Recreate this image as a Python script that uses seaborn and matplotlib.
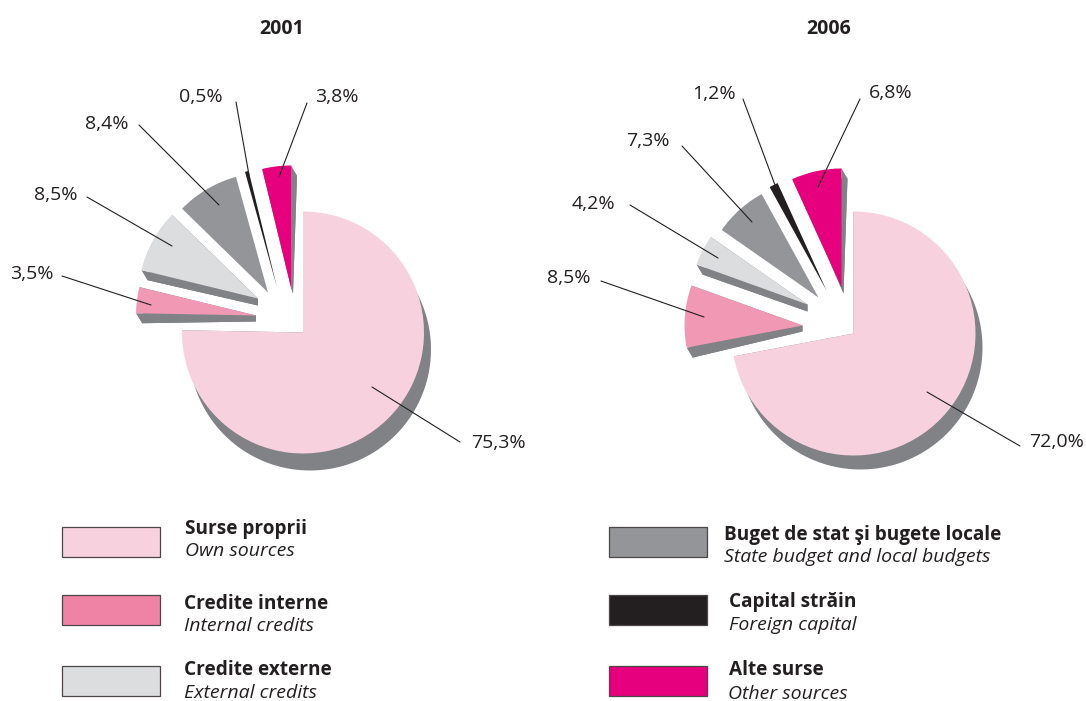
import matplotlib
matplotlib.use("Agg")
import matplotlib.pyplot as plt
from matplotlib.patches import Rectangle
import numpy as np
import seaborn as sns

sns.set_theme(style="white")
plt.rcParams['font.family'] = ['Open Sans', 'DejaVu Sans']

# ---- data ----
years = ["2001", "2006"]
values_2001 = [75.3, 3.5, 8.5, 8.4, 0.5, 3.8]
values_2006 = [72.0, 8.5, 4.2, 7.3, 1.2, 6.8]
labels_2001 = ["75,3%", "3,5%", "8,5%", "8,4%", "0,5%", "3,8%"]
labels_2006 = ["72,0%", "8,5%", "4,2%", "7,3%", "1,2%", "6,8%"]
names_ro = ["Surse proprii", "Credite interne", "Credite externe",
            "Buget de stat şi bugete locale", "Capital străin", "Alte surse"]
names_en = ["Own sources", "Internal credits", "External credits",
            "State budget and local budgets", "Foreign capital", "Other sources"]

# ---- styles and layout (pixels of the 1086x701 picture, y downward) ----
slice_colors = ["#f7d2de", "#f198b5", "#dcddde", "#939598", "#231f20", "#e6007e"]
legend_colors = ["#f7d2de", "#ef83a5", "#dcddde", "#939598", "#231f20", "#e6007e"]
shadow_color = "#808285"
text_color = "#231f20"
has_shadow = [True, True, True, False, False, True]
apex_depth = [None, (0, 6), (0, 7), None, None, (2, 6)]

layout = {
    "2001": dict(
        center=(303, 332.5), radii=[121, 120, 120, 120, 120, 122], own_shadow=(7, 17),
        shift=[(0, 0), (-47, -17), (-45, -34), (-35, -40), (-26, -45), (-12, -45)],
        title=(282, 29),
        label_xy=[(498, 443), (32, 274), (56, 195), (107, 124), (201, 97), (337, 97)],
        leader=[((460, 442), (372, 387)), ((62, 276), (151, 305)), ((87, 197), (172, 246)),
                ((139, 125), (219, 205)), ((236, 102), (249, 175)), ((307, 103), (279, 177))],
    ),
    "2006": dict(
        center=(853.5, 333.5), radii=[122, 118, 118, 118, 118, 119], own_shadow=(7, 14),
        shift=[(0, 0), (-51, -8), (-46, -29), (-35, -36), (-27, -43), (-12, -46)],
        title=(829, 29),
        label_xy=[(1057, 442), (569, 278), (593, 204), (648, 141), (714, 94), (891, 93)],
        leader=[((1020, 446), (927, 392)), ((601, 281), (704, 317)), ((630, 205), (718, 258)),
                ((682, 146), (752, 222)), ((743, 99), (775, 185)), ((860, 99), (818, 187))],
    ),
}

legend_boxes = [(62, 527), (62, 595), (62, 666), (609, 527), (609, 595), (609, 666)]
legend_text = [((185, 529), (185, 551)), ((184, 604), (184, 626)), ((184, 670), (184, 693)),
               ((724, 535), (724, 557)), ((729, 602), (729, 625)), ((729, 670), (728, 694))]

W, H = 1086, 701
fig = plt.figure(figsize=(W / 100, H / 100), dpi=100, facecolor="white")
ax = fig.add_axes([0, 0, 1, 1])


def Y(y):
    return H - y


def draw_shadow(wedge, i, lay):
    """Grey extruded side of a slice: its rim moves fully, its apex only a little."""
    (x0, y0), r = wedge.center, wedge.r
    s = np.array(lay["own_shadow"] if i == 0 else (6, 10), dtype=float) * (1, -1)
    a = np.array(apex_depth[i] if apex_depth[i] else s, dtype=float) * ((1, -1) if apex_depth[i] else (1, 1))
    th = np.radians(np.linspace(wedge.theta1, wedge.theta2, 120))
    rim = np.column_stack([x0 + r * np.cos(th), y0 + r * np.sin(th)])
    apex = np.array([x0, y0])
    polys = [
        np.vstack([apex + a, rim + s]),
        np.array([rim[0], rim[0] + s, apex + a, apex]),
        np.array([rim[-1], rim[-1] + s, apex + a, apex]),
    ]
    for p in polys:
        ax.fill(p[:, 0], p[:, 1], color=shadow_color, linewidth=0, zorder=1)


def draw_pie(values, lay):
    cx, cy = lay["center"]
    wedges, _ = ax.pie(values, startangle=90, counterclock=False, radius=1,
                       center=(cx, Y(cy)), colors=slice_colors,
                       wedgeprops=dict(linewidth=0, zorder=2))
    for i, w in enumerate(wedges):
        dx, dy = lay["shift"][i]
        w.set_radius(lay["radii"][i])
        w.set_center((cx + dx, Y(cy + dy)))
        if has_shadow[i]:
            draw_shadow(w, i, lay)


for year, vals, labs in zip(years, [values_2001, values_2006], [labels_2001, labels_2006]):
    lay = layout[year]
    draw_pie(vals, lay)
    ax.text(lay["title"][0], Y(lay["title"][1]), year, ha="center", va="center",
            fontsize=14, fontweight="bold", color=text_color)
    for lab, (lx, ly), (p0, p1) in zip(labs, lay["label_xy"], lay["leader"]):
        ax.text(lx, Y(ly), lab, ha="center", va="center", fontsize=14, color=text_color)
        ax.plot([p0[0], p1[0]], [Y(p0[1]), Y(p1[1])], color=text_color, lw=0.8, zorder=3)

for col, (bx, by), ro, en, (p_ro, p_en) in zip(legend_colors, legend_boxes, names_ro, names_en, legend_text):
    ax.add_patch(Rectangle((bx, Y(by + 30)), 98, 30, facecolor=col,
                           edgecolor="#4d4647", linewidth=0.9, zorder=2))
    ax.text(p_ro[0], Y(p_ro[1]), ro, ha="left", va="center", fontsize=13.7,
            fontweight="bold", color=text_color)
    ax.text(p_en[0], Y(p_en[1]), en, ha="left", va="center", fontsize=14,
            fontstyle="italic", color=text_color)

ax.set_xlim(0, W)
ax.set_ylim(0, H)
ax.set_aspect("equal")
ax.axis("off")
fig.savefig("out.png", dpi=100, facecolor="white")
